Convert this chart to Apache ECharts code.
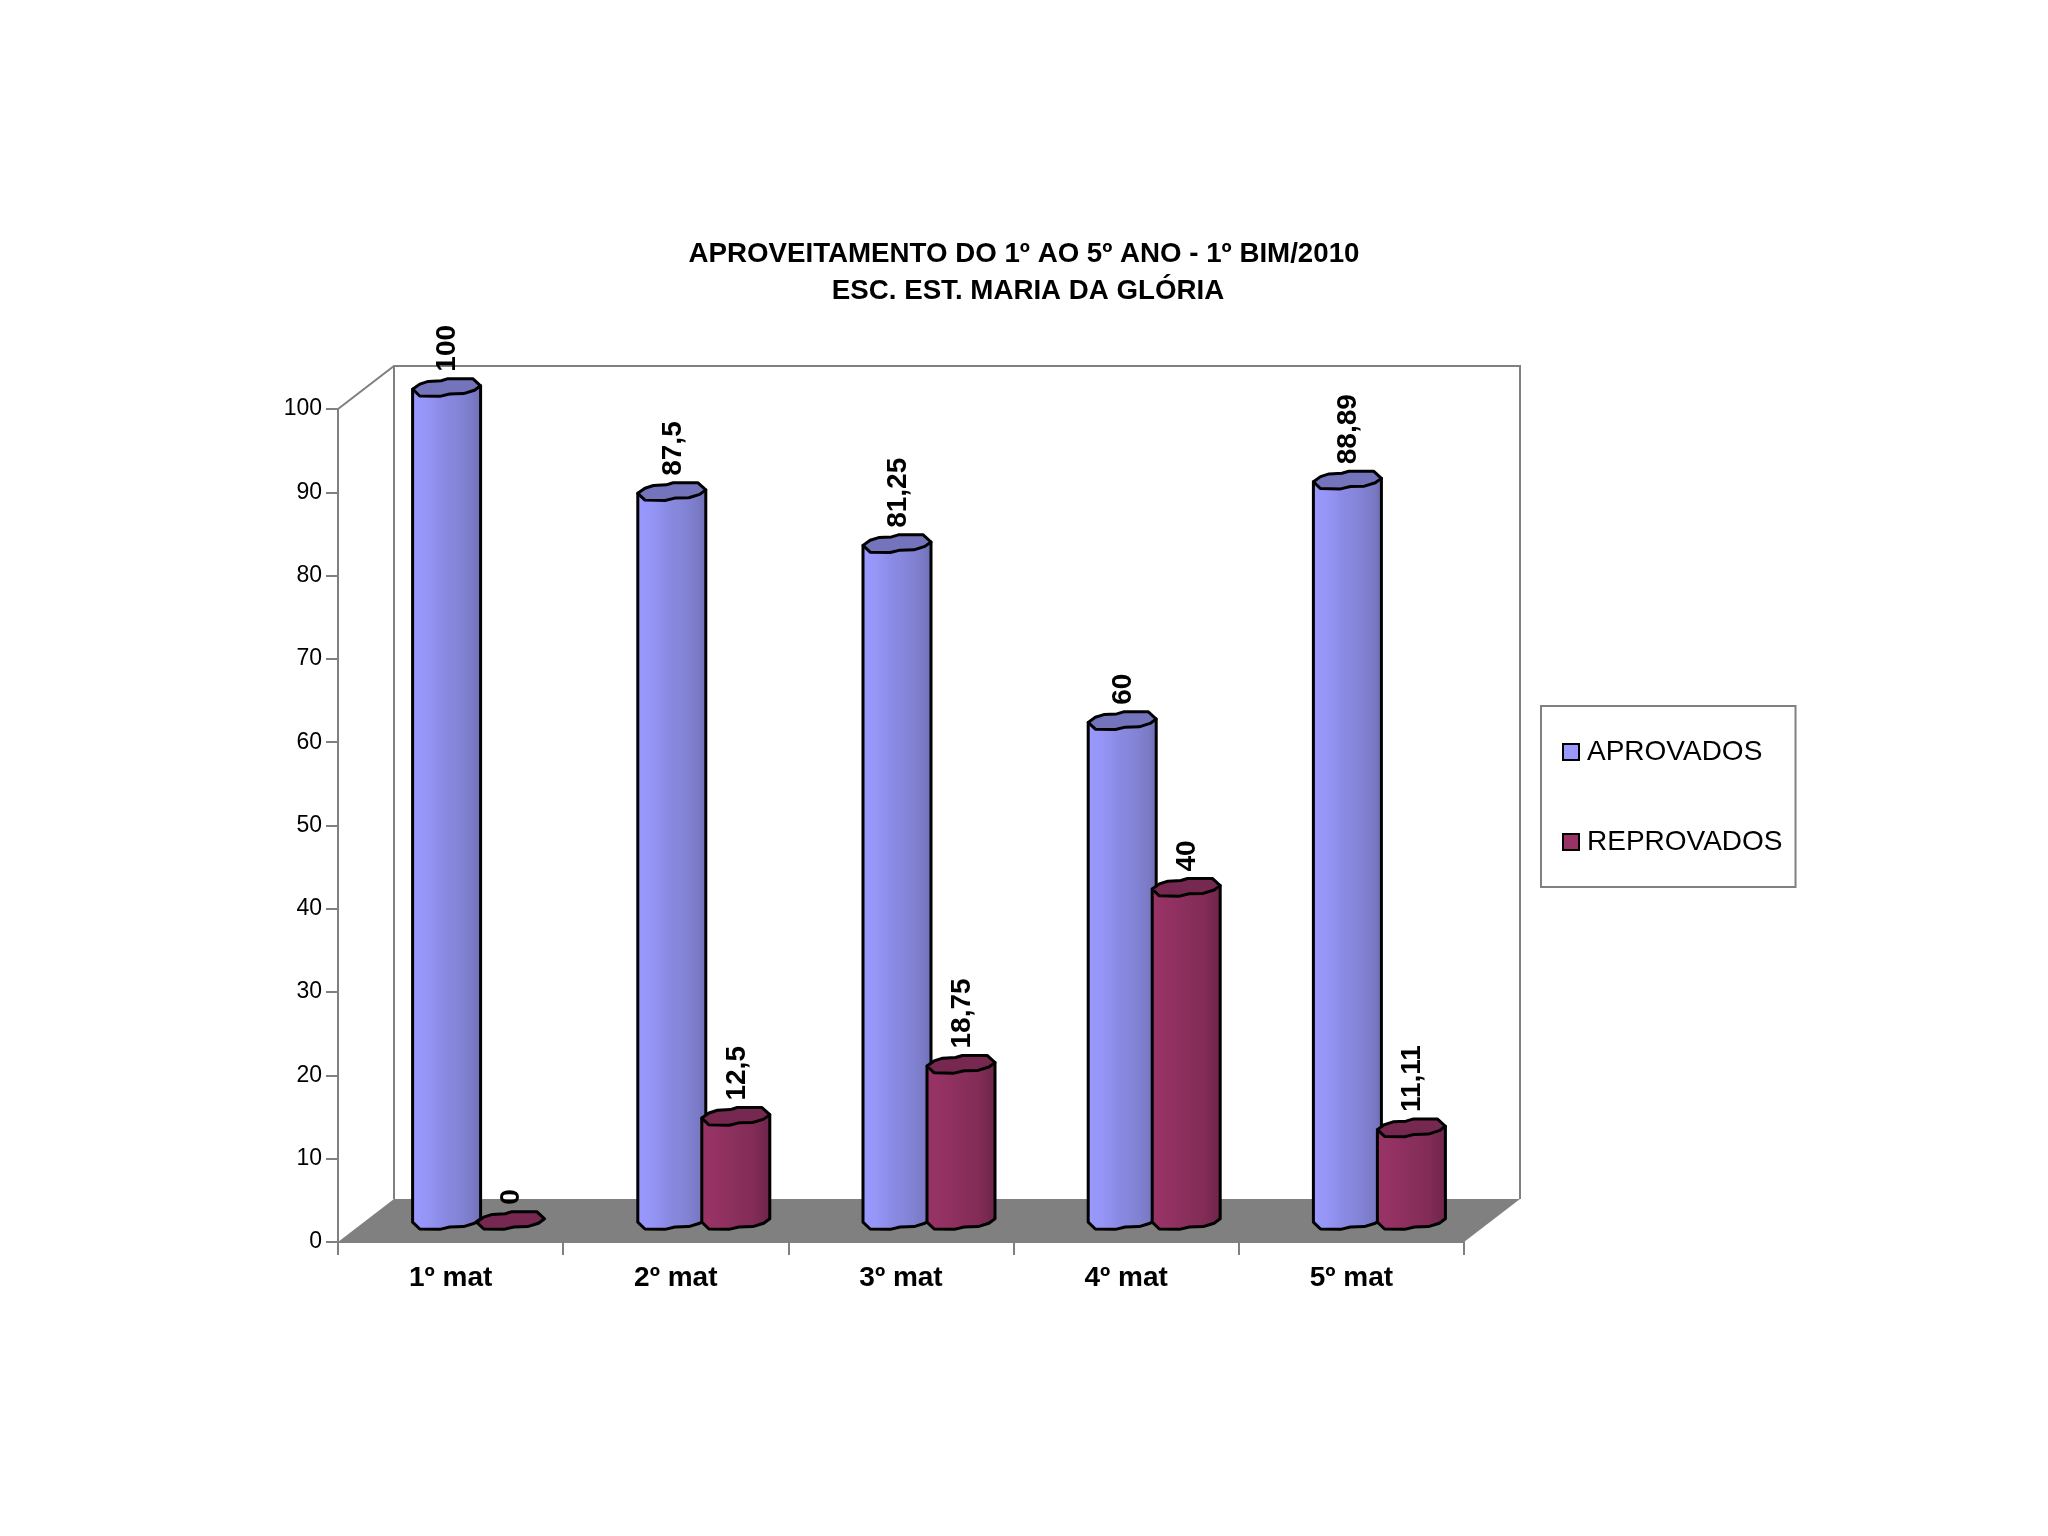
<!DOCTYPE html>
<html>
<head>
<meta charset="utf-8">
<title>Aproveitamento</title>
<style>
html, body { margin: 0; padding: 0; background: #fff; }
#main { width: 2048px; height: 1536px; }
</style>
<script src="https://cdn.jsdelivr.net/npm/echarts@6/dist/echarts.min.js"></script>
</head>
<body>
<div id="main"></div>
<script>
var categories = ['1º mat', '2º mat', '3º mat', '4º mat', '5º mat'];
var aprovados = [100, 87.5, 81.25, 60, 88.89];
var reprovados = [0, 12.5, 18.75, 40, 11.11];
var yTicks = [0, 100, 10];

var FONT = '"Liberation Sans", Arial, sans-serif';
// profundidade do "3D"
var DEPTH_X = 56, DEPTH_Y = 43;
var BAR_HALF = 34, BAR_SHIFT = 32;

// contorno irregular do topo do cilindro (u, v em meias-larguras)
var CAP_TOP = [[-1, .05], [-.79, -.10], [-.54, -.18], [-.16, -.20], [.04, -.26], [.77, -.26], [1, -.05]];
var CAP_BOTTOM = [[.82, .08], [.5, .18], [.09, .19], [-.2, .26], [-.79, .25]];

var blueStyle = {
    stops: [[0, '#9999ff'], [.2, '#9696f8'], [.45, '#8a8ae4'], [.72, '#8282d4'], [.86, '#7a7ac6'], [1, '#6f6fb6']],
    cap: '#7474bc'
};
var redStyle = {
    stops: [[0, '#993366'], [.2, '#953264'], [.5, '#8a2f5c'], [.75, '#822c56'], [.88, '#772850'], [1, '#6c2448']],
    cap: '#772850'
};

function outline(points, cx, cy) {
    return points.map(function (p) {
        return [cx + p[0] * BAR_HALF, cy + p[1] * BAR_HALF];
    });
}

function cylinder(look, side) {
    return function (params, api) {
        var value = api.value(1);
        var base = api.coord([api.value(0), 0]);
        var top = api.coord([api.value(0), value]);
        var cx = base[0] + DEPTH_X / 2 + side * BAR_SHIFT;
        var cyBase = base[1] - DEPTH_Y / 2;
        var cyTop = top[1] - DEPTH_Y / 2;
        var capPoints = outline(CAP_TOP.concat(CAP_BOTTOM), cx, cyTop);
        var children = [];

        if (value > 0) {
            var body = [[cx + BAR_HALF, cyTop - .05 * BAR_HALF]]
                .concat([[cx + BAR_HALF, cyBase - .05 * BAR_HALF]])
                .concat(outline(CAP_BOTTOM, cx, cyBase))
                .concat([[cx - BAR_HALF, cyBase + .05 * BAR_HALF], [cx - BAR_HALF, cyTop + .05 * BAR_HALF]]);
            children.push({
                type: 'polygon',
                shape: { points: body },
                style: {
                    fill: {
                        type: 'linear', x: 0, y: 0, x2: 1, y2: 0,
                        colorStops: look.stops.map(function (s) { return { offset: s[0], color: s[1] }; })
                    },
                    stroke: '#000', lineWidth: 3, lineJoin: 'round'
                }
            });
        }
        children.push({
            type: 'polygon',
            shape: { points: capPoints },
            style: { fill: look.cap, stroke: '#000', lineWidth: 3, lineJoin: 'round' }
        });
        children.push({
            type: 'text',
            x: cx + 1,
            y: cyTop - .26 * BAR_HALF - 7,
            rotation: Math.PI / 2,
            style: {
                text: String(value).replace('.', ','),
                font: 'bold 28px ' + FONT,
                fill: '#000',
                align: 'left',
                verticalAlign: 'middle'
            }
        });
        return { type: 'group', children: children };
    };
}

// paredes e piso
function frame(params) {
    var c = params.coordSys;
    var x0 = c.x, x1 = c.x + c.width, y0 = c.y, y1 = c.y + c.height;
    var line = { stroke: '#808080', lineWidth: 2, fill: 'none' };
    return {
        type: 'group',
        children: [
            {
                type: 'polygon',
                shape: { points: [[x0, y1], [x1, y1], [x1 + DEPTH_X, y1 - DEPTH_Y], [x0 + DEPTH_X, y1 - DEPTH_Y]] },
                style: { fill: '#808080' }
            },
            {
                type: 'polyline',
                shape: { points: [[x0, y0], [x0 + DEPTH_X, y0 - DEPTH_Y], [x1 + DEPTH_X, y0 - DEPTH_Y], [x1 + DEPTH_X, y1 - DEPTH_Y]] },
                style: line
            },
            {
                type: 'line',
                shape: { x1: x0 + DEPTH_X, y1: y0 - DEPTH_Y, x2: x0 + DEPTH_X, y2: y1 - DEPTH_Y },
                style: line
            }
        ]
    };
}

function toPairs(values) {
    return values.map(function (v, i) { return [i, v]; });
}

var titleFont = { fontFamily: FONT, fontSize: 27.7, fontWeight: 'bold', color: '#000' };

var chart = echarts.init(document.getElementById('main'));

chart.setOption({
    animation: false,
    backgroundColor: '#fff',
    title: [
        { text: 'APROVEITAMENTO DO 1º AO 5º ANO - 1º BIM/2010', left: 1024, top: 240, textAlign: 'center', padding: 0, textStyle: titleFont },
        { text: 'ESC. EST. MARIA DA GLÓRIA', left: 1028, top: 277, textAlign: 'center', padding: 0, textStyle: titleFont }
    ],
    legend: {
        orient: 'vertical',
        left: 1541,
        top: 706,
        padding: [32, 13, 31, 21],
        itemWidth: 16,
        itemHeight: 16,
        itemGap: 62,
        backgroundColor: '#fff',
        borderColor: '#808080',
        borderWidth: 2,
        textStyle: { fontFamily: FONT, fontSize: 28, color: '#000', padding: [0, 0, 4, 3] },
        data: [
            { name: 'APROVADOS', icon: 'rect', itemStyle: { color: '#9999ff', borderColor: '#000', borderWidth: 2 } },
            { name: 'REPROVADOS', icon: 'rect', itemStyle: { color: '#993366', borderColor: '#000', borderWidth: 2 } }
        ]
    },
    grid: { left: 338, top: 409, width: 1126, height: 833, outerBoundsMode: 'none' },
    xAxis: {
        type: 'category',
        data: categories,
        axisLine: { lineStyle: { color: '#808080', width: 2 } },
        axisTick: { show: true, alignWithLabel: false, length: 13, lineStyle: { color: '#808080', width: 2 } },
        axisLabel: { margin: 22, fontFamily: FONT, fontSize: 28, fontWeight: 'bold', color: '#000' }
    },
    yAxis: {
        type: 'value',
        min: yTicks[0],
        max: yTicks[1],
        interval: yTicks[2],
        splitLine: { show: false },
        axisLine: { show: true, lineStyle: { color: '#808080', width: 2 } },
        axisTick: { show: true, length: 12, lineStyle: { color: '#808080', width: 2 } },
        axisLabel: { margin: 16, fontFamily: FONT, fontSize: 23, color: '#000' }
    },
    series: [
        { type: 'custom', name: 'frame', renderItem: frame, data: [[0, 0]], z: 1, silent: true, clip: false },
        {
            type: 'custom',
            name: 'APROVADOS',
            renderItem: cylinder(blueStyle, -1),
            data: toPairs(aprovados),
            encode: { x: 0, y: 1 },
            itemStyle: { color: '#9999ff' },
            z: 3
        },
        {
            type: 'custom',
            name: 'REPROVADOS',
            renderItem: cylinder(redStyle, 1),
            data: toPairs(reprovados),
            encode: { x: 0, y: 1 },
            itemStyle: { color: '#993366' },
            z: 4
        }
    ]
});
</script>
</body>
</html>
